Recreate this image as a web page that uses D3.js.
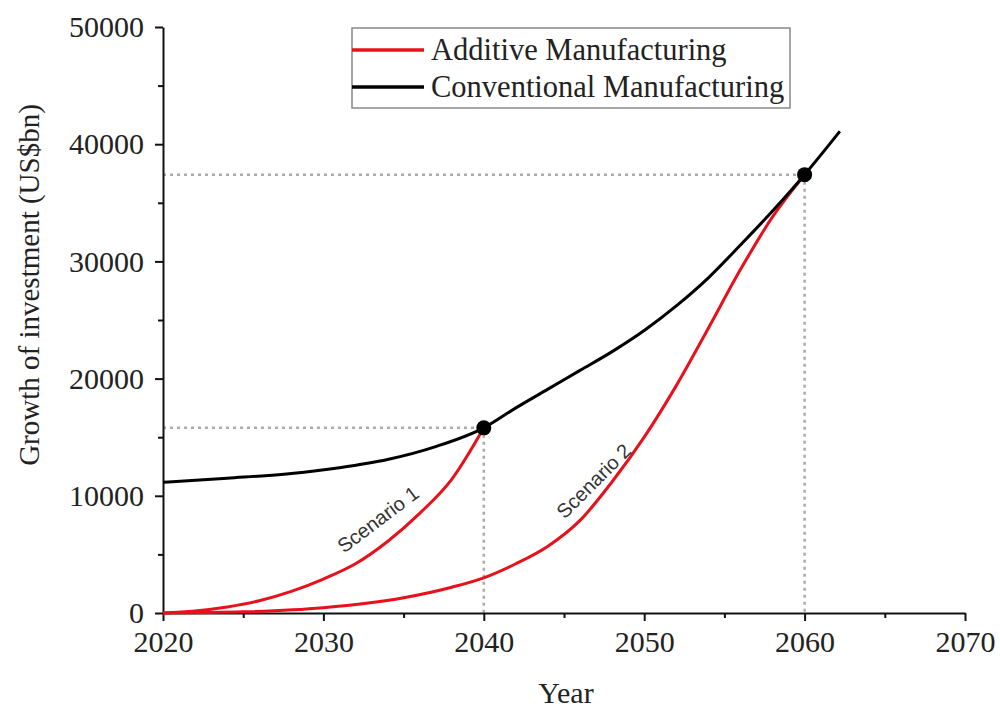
<!DOCTYPE html>
<html lang="en">
<head>
<meta charset="UTF-8">
<title>Growth of investment</title>
<script src="https://cdn.jsdelivr.net/npm/d3@7"></script>
<style>
  body { margin: 0; background: #fff; }
  .axis path, .axis line { stroke: #111; stroke-width: 2px; }
  .axis text { font-family: "Liberation Serif", serif; font-size: 30px; fill: #222; }
  .guide { stroke: #aaa; stroke-width: 2.5px; stroke-dasharray: 3,4; fill: none; }
  .curve { fill: none; stroke-width: 3px; }
  .scen { font-family: "Liberation Sans", sans-serif; font-size: 20px; fill: #333; }
</style>
</head>
<body>
<svg id="main" width="1000" height="711"></svg>
<script>
// data
const convYears = [2020, 2024, 2028, 2031, 2034, 2037, 2040, 2042, 2044, 2046, 2048, 2050, 2052, 2054, 2056, 2058, 2060, 2062.2];
const convValues = [11150, 11500, 11900, 12400, 13100, 14200, 15800, 17500, 19100, 20700, 22300, 24100, 26200, 28600, 31400, 34300, 37400, 41100];

const s1Years = [2020, 2022, 2024, 2026, 2028, 2030, 2032, 2034, 2036, 2038, 2040];
const s1Values = [0, 180, 520, 1050, 1850, 2900, 4200, 6100, 8500, 11400, 15800];

const s2Years = [2020, 2025, 2030, 2035, 2038, 2040, 2042, 2044, 2046, 2048, 2050, 2052, 2054, 2056, 2058, 2060];
const s2Values = [0, 100, 450, 1300, 2200, 3000, 4200, 5700, 7900, 11200, 15000, 19400, 24300, 29300, 33800, 37400];

const meetYears = [2040, 2060];
const meetValues = [15800, 37400];

const xTicks = [2020, 2030, 2040, 2050, 2060, 2070];
const yTicks = [0, 10000, 20000, 30000, 40000, 50000];
const legendLabels = ["Additive Manufacturing", "Conventional Manufacturing"];
const legendColors = ["#e8101a", "#000"];

const svg = d3.select("svg#main");
const x = d3.scaleLinear().domain([2020, 2070]).range([163, 965]);
const y = d3.scaleLinear().domain([0, 50000]).range([613, 27]);

// guide lines to the meeting points
const guides = svg.append("g");
meetYears.forEach(function (yr, i) {
  guides.append("line").attr("class", "guide")
    .attr("x1", x(2020)).attr("x2", x(yr))
    .attr("y1", y(meetValues[i])).attr("y2", y(meetValues[i]));
  guides.append("line").attr("class", "guide")
    .attr("x1", x(yr)).attr("x2", x(yr))
    .attr("y1", y(meetValues[i])).attr("y2", y(0));
});

// axes (minor ticks first, then majors with labels)
svg.append("g").attr("class", "axis")
  .attr("transform", "translate(0," + y(0) + ")")
  .call(d3.axisBottom(x).tickValues(d3.range(2025, 2070, 10)).tickSize(5).tickFormat(""))
  .select(".domain").remove();
svg.append("g").attr("class", "axis")
  .attr("transform", "translate(" + x(2020) + ",0)")
  .call(d3.axisLeft(y).tickValues(d3.range(5000, 50000, 10000)).tickSize(5).tickFormat(""))
  .select(".domain").remove();
svg.append("g").attr("class", "axis")
  .attr("transform", "translate(0," + y(0) + ")")
  .call(d3.axisBottom(x).tickValues(xTicks).tickSize(8).tickSizeOuter(0).tickPadding(10).tickFormat(d3.format("d")));
svg.append("g").attr("class", "axis")
  .attr("transform", "translate(" + x(2020) + ",0)")
  .call(d3.axisLeft(y).tickValues(yTicks).tickSize(8).tickSizeOuter(0).tickPadding(11).tickFormat(d3.format("d")));

// curves
const line = d3.line()
  .x(function (d) { return x(d[0]); })
  .y(function (d) { return y(d[1]); })
  .curve(d3.curveMonotoneX);
const plot = svg.append("g");
plot.append("path").attr("class", "curve").attr("stroke", legendColors[0])
  .attr("d", line(d3.zip(s1Years, s1Values)));
plot.append("path").attr("class", "curve").attr("stroke", legendColors[0])
  .attr("d", line(d3.zip(s2Years, s2Values)));
plot.append("path").attr("class", "curve").attr("stroke", legendColors[1])
  .attr("d", line(d3.zip(convYears, convValues)));
plot.selectAll("circle").data(d3.zip(meetYears, meetValues)).join("circle")
  .attr("cx", function (d) { return x(d[0]); })
  .attr("cy", function (d) { return y(d[1]); })
  .attr("r", 7.5).attr("fill", "#000");

// scenario labels, set just above their curve
svg.append("text").attr("class", "scen")
  .attr("text-anchor", "middle").attr("dominant-baseline", "central")
  .attr("transform", "translate(" + x(2033.9) + "," + y(6800) + ") rotate(-37)")
  .attr("x", 2).attr("y", -16)
  .text("Scenario 1");
svg.append("text").attr("class", "scen")
  .attr("text-anchor", "middle").attr("dominant-baseline", "central")
  .attr("transform", "translate(" + x(2047.6) + "," + y(10000) + ") rotate(-45)")
  .attr("x", 2).attr("y", -19)
  .text("Scenario 2");

// axis titles
svg.append("text")
  .attr("font-family", "Liberation Serif").attr("font-size", 30).attr("fill", "#222")
  .attr("text-anchor", "middle")
  .attr("x", 566).attr("y", 703)
  .text("Year");
svg.append("text")
  .attr("font-family", "Liberation Serif").attr("font-size", 29).attr("fill", "#222")
  .attr("text-anchor", "middle")
  .attr("transform", "translate(39,285) rotate(-90)")
  .text("Growth of investment (US$bn)");

// legend
const legend = svg.append("g");
legend.append("rect")
  .attr("x", 352).attr("y", 28).attr("width", 438).attr("height", 80)
  .attr("fill", "#fff").attr("stroke", "#888").attr("stroke-width", 1.5);
legendLabels.forEach(function (lab, i) {
  const ly = 50 + i * 37;
  legend.append("line")
    .attr("x1", 352).attr("x2", 424).attr("y1", ly).attr("y2", ly)
    .attr("stroke", legendColors[i]).attr("stroke-width", 3.5);
  legend.append("text")
    .attr("font-family", "Liberation Serif").attr("font-size", 30.5).attr("fill", "#222")
    .attr("x", 431).attr("y", ly + 10)
    .text(lab);
});
</script>
</body>
</html>
